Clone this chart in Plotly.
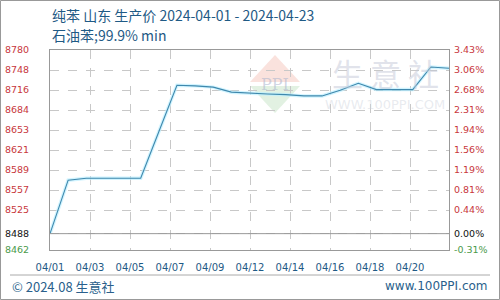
import plotly.graph_objects as go
import pandas as pd

# ---- data ----
dates = ["2024-04-01", "2024-04-02", "2024-04-03", "2024-04-04", "2024-04-05",
         "2024-04-06", "2024-04-07", "2024-04-08", "2024-04-09", "2024-04-10",
         "2024-04-11", "2024-04-12", "2024-04-13", "2024-04-14", "2024-04-15",
         "2024-04-16", "2024-04-17", "2024-04-18", "2024-04-19", "2024-04-20",
         "2024-04-21", "2024-04-22", "2024-04-23"]
prices = [8488, 8573, 8576, 8576, 8576, 8576, 8650, 8724, 8723, 8721,
          8713, 8711, 8710, 8709, 8707, 8707, 8716, 8727, 8717, 8717,
          8717, 8753, 8751]
x_tick_labels = ["04/01", "04/03", "04/05", "04/07", "04/09", "04/12",
                 "04/14", "04/16", "04/18", "04/20"]
y_tick_values = [8780, 8748.2, 8716.4, 8684.6, 8652.8, 8621, 8589.2, 8557.4, 8525.6, 8488, 8462]
y_left_labels = ["8780", "8748", "8716", "8684", "8653", "8621", "8589", "8557", "8525", "8488", "8462"]
y_right_labels = ["3.43%", "3.06%", "2.68%", "2.31%", "1.94%", "1.56%", "1.19%", "0.81%", "0.44%", "0.00%", "-0.31%"]
base_price = 8488
y_min, y_max = 8462, 8780

title_line1 = "纯苯 山东 生产价 2024-04-01 - 2024-04-23"
title_line2 = "石油苯;99.9% min"
footer_left = "© 2024.08 生意社"
footer_right = "www.100PPI.com"

# ---- derived ----
d = pd.to_datetime(dates)
xday = [(v - d[0]).days for v in d]
n_days = xday[-1]

W, H = 500, 300
L, R, T, B = 50, 51, 50, 50
pw, ph = W - L - R, H - T - B
tick_step = 40 * n_days / pw
tickvals_x = [i * tick_step for i in range(len(x_tick_labels))]

RED, BLACK, GREEN = "#c8373c", "#111111", "#4a9a4a"


def color_for(v):
    if abs(v - base_price) < 1:
        return BLACK
    return RED if v > base_price else GREEN


left_text = [f'<span style="color:{color_for(v)}">{t}</span>' for v, t in zip(y_tick_values, y_left_labels)]
right_text = [f'<span style="color:{color_for(v)}">{t}</span>' for v, t in zip(y_tick_values, y_right_labels)]

fig = go.Figure()
fig.add_trace(go.Scatter(x=xday, y=prices, mode="lines",
                         line=dict(color="rgba(190,240,255,0.7)", width=3.5),
                         hoverinfo="skip", showlegend=False))
fig.add_trace(go.Scatter(x=xday, y=prices, mode="lines",
                         line=dict(color="#3f88ad", width=1.1), showlegend=False))
fig.add_trace(go.Scatter(x=xday, y=prices, mode="lines", yaxis="y2",
                         line=dict(color="rgba(0,0,0,0)", width=0),
                         hoverinfo="skip", showlegend=False))


def px_x(p):
    return (p - L) / pw


def px_y(p):
    return (T + ph - p) / ph


fig.update_layout(
    width=W, height=H,
    margin=dict(l=L, r=R, t=T, b=B, autoexpand=False),
    paper_bgcolor="white", plot_bgcolor="white",
    font=dict(family="DejaVu Sans", size=10, color="#1f5a85"),
    xaxis=dict(range=[0, n_days], tickvals=tickvals_x, ticktext=x_tick_labels,
               showgrid=True, gridcolor="#c8c8c8", griddash="dash", gridwidth=1,
               zeroline=False, showline=True, linecolor="#999999", mirror=True,
               tickfont=dict(family="DejaVu Sans", size=10, color="#1f5a85"),
               ticks="", ticklabelstandoff=8, automargin=False),
    yaxis=dict(range=[y_min, y_max], tickvals=y_tick_values, ticktext=left_text,
               showgrid=True, gridcolor="#c8c8c8", griddash="dash", gridwidth=1,
               zeroline=False, showline=True, linecolor="#999999", mirror=True,
               tickfont=dict(family="DejaVu Sans", size=9.5),
               ticks="", ticklabelstandoff=18, automargin=False),
    yaxis2=dict(range=[y_min, y_max], tickvals=y_tick_values, ticktext=right_text,
                overlaying="y", side="right", showgrid=False, zeroline=False,
                showline=False, tickfont=dict(family="DejaVu Sans", size=9.5),
                ticks="", ticklabelstandoff=4, automargin=False),
    showlegend=False,
)

shapes = [
    dict(type="line", xref="paper", yref="y", x0=0, x1=1, y0=base_price, y1=base_price,
         line=dict(color="#999999", width=1), layer="above"),
    dict(type="line", xref="paper", yref="paper", x0=px_x(10), x1=px_x(490),
         y0=px_y(275), y1=px_y(275), line=dict(color="#aaaaaa", width=1)),
    dict(type="rect", xref="paper", yref="paper", x0=px_x(0.5), x1=px_x(499.5),
         y0=px_y(299.5), y1=px_y(0.5), line=dict(color="#999999", width=1)),
    dict(type="path", xref="paper", yref="paper", layer="below",
         path=f"M {px_x(250)} {px_y(82)} L {px_x(275)} {px_y(55)} L {px_x(300)} {px_y(82)} Z",
         fillcolor="rgba(244,190,180,0.45)", line=dict(width=0)),
    dict(type="path", xref="paper", yref="paper", layer="below",
         path=f"M {px_x(250)} {px_y(86)} L {px_x(275)} {px_y(113)} L {px_x(300)} {px_y(86)} Z",
         fillcolor="rgba(190,225,190,0.45)", line=dict(width=0)),
]
fig.update_layout(shapes=shapes)

annotations = [
    dict(text=title_line1, xref="paper", yref="paper", x=px_x(50), y=px_y(15),
         xanchor="left", yanchor="middle", showarrow=False,
         font=dict(family="Noto Sans CJK SC", size=14, color="#1f5a85")),
    dict(text=title_line2, xref="paper", yref="paper", x=px_x(50), y=px_y(35),
         xanchor="left", yanchor="middle", showarrow=False,
         font=dict(family="Noto Sans CJK SC", size=14, color="#1f5a85")),
    dict(text=footer_left, xref="paper", yref="paper", x=px_x(10), y=px_y(286),
         xanchor="left", yanchor="middle", showarrow=False,
         font=dict(family="Noto Sans CJK SC", size=13, color="#2a5f8c")),
    dict(text=footer_right, xref="paper", yref="paper", x=px_x(490), y=px_y(286),
         xanchor="right", yanchor="middle", showarrow=False,
         font=dict(family="DejaVu Sans", size=12, color="#2a5f8c")),
    dict(text="PPI", xref="paper", yref="paper", x=px_x(275), y=px_y(84),
         xanchor="center", yanchor="middle", showarrow=False,
         font=dict(family="DejaVu Serif", size=16, color="rgba(170,180,205,0.55)")),
    dict(text="生 意 社", xref="paper", yref="paper", x=px_x(385), y=px_y(72),
         xanchor="center", yanchor="middle", showarrow=False,
         font=dict(family="Noto Sans CJK SC", size=31, color="rgba(195,200,215,0.5)")),
    dict(text="WWW.100PPI.COM", xref="paper", yref="paper", x=px_x(385), y=px_y(104),
         xanchor="center", yanchor="middle", showarrow=False,
         font=dict(family="DejaVu Sans", size=13, color="rgba(205,210,220,0.45)")),
]
fig.update_layout(annotations=annotations)

fig.write_html("out.html")
